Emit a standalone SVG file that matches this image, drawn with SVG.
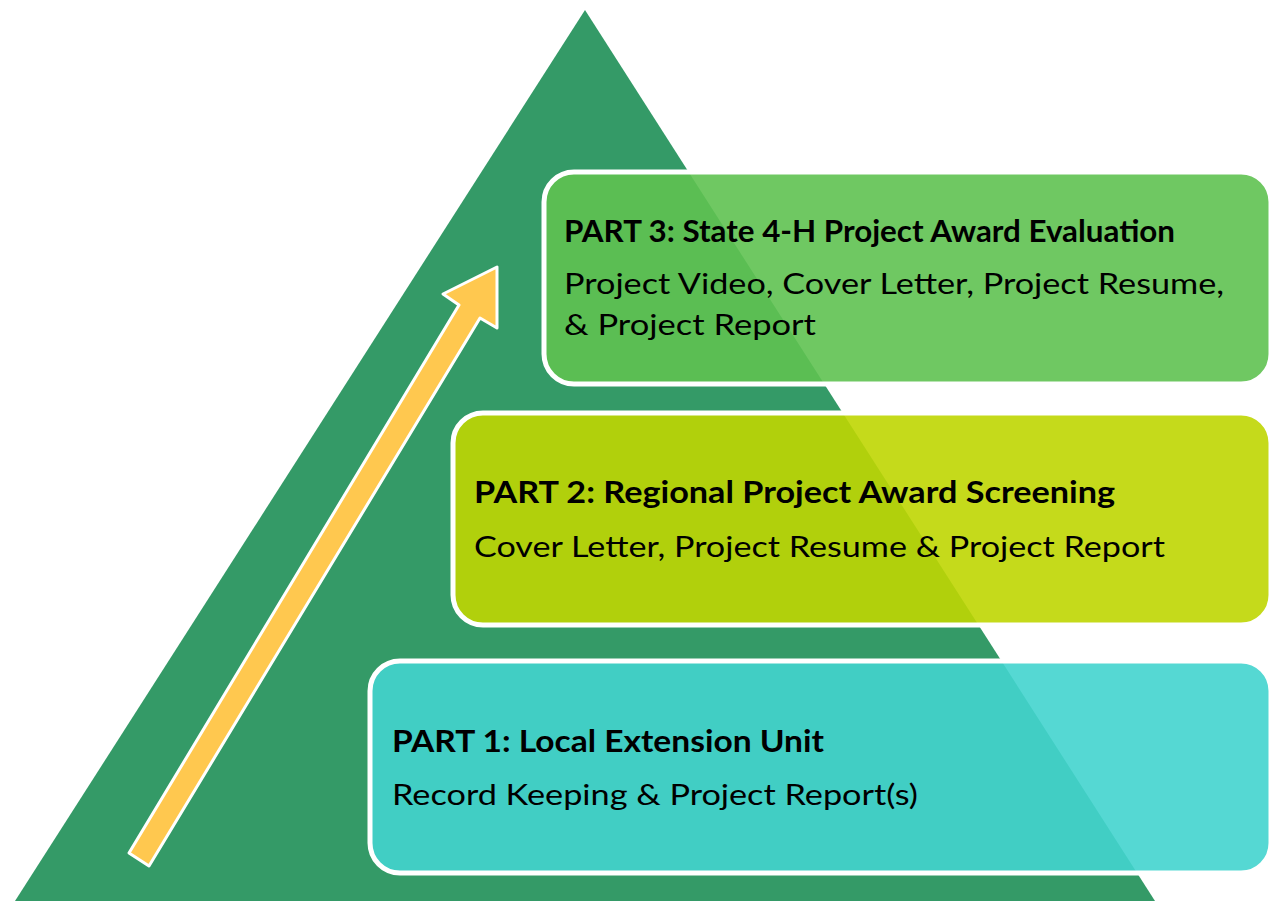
<svg xmlns="http://www.w3.org/2000/svg" width="1270" height="901" viewBox="0 0 1270 901">
  <style>
    .box { stroke: #ffffff; stroke-width: 5; }
    .title { font-family: Lato, "Liberation Sans", sans-serif; font-weight: bold; font-size: 29.5px; fill: #000000; }
    .body { font-family: Lato, "Liberation Sans", sans-serif; font-size: 29.5px; fill: #000000; }
  </style>
  <rect width="1270" height="901" fill="#ffffff"/>
  <g id="pyramid">
    <polygon points="585,10 15,901 1155,901" fill="#349A67"/>
  </g>
  <g id="connectors">
    <polygon points="129,853 459,305 443,294 497,267 497,328 480,318 149,866" fill="#FFC84F" stroke="#ffffff" stroke-width="3" stroke-linejoin="round"/>
  </g>
  <g id="part3">
    <rect class="box" x="544" y="172" width="727" height="212" rx="30" fill="#5FC251" fill-opacity="0.9"/>
    <text class="title" x="564" y="242" textLength="611" lengthAdjust="spacingAndGlyphs">PART 3: State 4-H Project Award Evaluation</text>
    <text class="body" x="564" y="294" textLength="660" lengthAdjust="spacingAndGlyphs">Project Video, Cover Letter, Project Resume,</text>
    <text class="body" x="564" y="335" textLength="252" lengthAdjust="spacingAndGlyphs">&amp; Project Report</text>
  </g>
  <g id="part2">
    <rect class="box" x="453" y="413" width="818" height="212" rx="30" fill="#BFD602" fill-opacity="0.9"/>
    <text class="title" x="474" y="503" textLength="641" lengthAdjust="spacingAndGlyphs">PART 2: Regional Project Award Screening</text>
    <text class="body" x="474" y="557" textLength="691" lengthAdjust="spacingAndGlyphs">Cover Letter, Project Resume &amp; Project Report</text>
  </g>
  <g id="part1">
    <rect class="box" x="370" y="661" width="901" height="212" rx="30" fill="#43D4CE" fill-opacity="0.9"/>
    <text class="title" x="392" y="752" textLength="432" lengthAdjust="spacingAndGlyphs">PART 1: Local Extension Unit</text>
    <text class="body" x="392" y="805" textLength="526" lengthAdjust="spacingAndGlyphs">Record Keeping &amp; Project Report(s)</text>
  </g>
</svg>
